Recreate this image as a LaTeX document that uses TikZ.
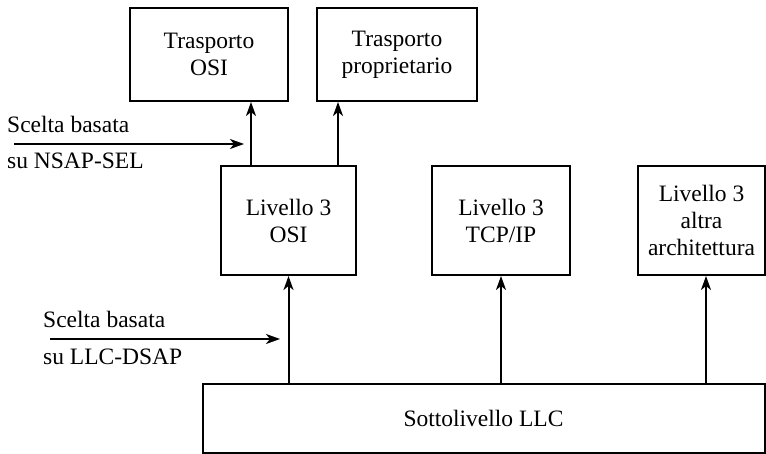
\documentclass[tikz,border=0pt]{standalone}
\usepackage{fontspec}
\setmainfont{Liberation Serif}
\usetikzlibrary{arrows.meta}
\begin{document}
\begin{tikzpicture}[x=1pt,y=-1pt,
  box/.style={draw,line width=2pt,align=center,inner sep=0pt,
    font=\fontsize{23.5}{27}\selectfont},
  lbl/.style={anchor=base west,inner sep=0pt,font=\fontsize{23.5}{27}\selectfont},
  arr/.style={line width=2pt,-{Stealth[length=14pt,width=10pt,inset=4pt]}}]
\useasboundingbox (0,0) rectangle (766,454);
\node[box,minimum width=158pt,minimum height=93pt] (to) at (209,54.5) {Trasporto\\OSI};
\node[box,minimum width=160pt,minimum height=93pt] (tp) at (397,54.5) {Trasporto\\proprietario};
\node[box,minimum width=135pt,minimum height=109pt] (l3osi) at (288.5,220.5) {Livello 3\\OSI};
\node[box,minimum width=138pt,minimum height=109pt] (l3tcp) at (501,220.5) {Livello 3\\TCP/IP};
\node[box,minimum width=127pt,minimum height=109pt] (l3alt) at (701.5,220.5) {Livello 3\\altra\\architettura};
\node[box,minimum width=562pt,minimum height=69pt] (llc) at (483.5,418) {Sottolivello LLC};
\draw[arr] (l3osi.north -| 251,0) -- (to.south -| 251,0);
\draw[arr] (l3osi.north -| 338,0) -- (tp.south -| 338,0);
\draw[arr] (llc.north -| l3osi.south) -- (l3osi.south);
\draw[arr] (llc.north -| l3tcp.south) -- (l3tcp.south);
\draw[arr] (llc.north -| 706,0) -- (l3alt.south -| 706,0);
\node[lbl] (s1) at (7,133) {Scelta basata};
\node[lbl] (s2) at (7,169) {su NSAP-SEL};
\coordinate (a1) at (14,144);
\coordinate (b1) at (244,144);
\draw[arr] (a1) -- (b1);
\node[lbl] (s3) at (43,328) {Scelta basata};
\node[lbl] (s4) at (43,364) {su LLC-DSAP};
\coordinate (a2) at (50,339);
\coordinate (b2) at (280,339);
\draw[arr] (a2) -- (b2);
\end{tikzpicture}
\end{document}
